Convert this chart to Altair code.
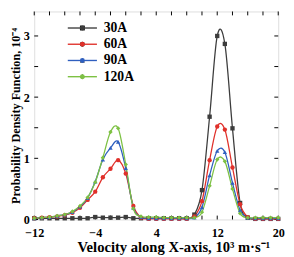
import altair as alt
import pandas as pd

velocity = list(range(-12, 21))
series_names = ["30A", "60A", "90A", "120A"]
colors = ["#3c3c3c", "#e0302a", "#2f5fbf", "#7dc143"]
shapes = ["square", "circle", "triangle-up", "diamond"]

pdf_30A = [0.02, 0.02, 0.02, 0.02, 0.02, 0.02, 0.02, 0.02, 0.04, 0.03, 0.03, 0.03,
           0.04, 0.02, 0.02, 0.02, 0.02, 0.02, 0.02, 0.02, 0.02, 0.08, 0.48, 1.68,
           3.00, 2.87, 1.49, 0.27, 0.03, 0.01, 0.01, 0.01, 0.01]
pdf_60A = [0.02, 0.03, 0.04, 0.05, 0.07, 0.11, 0.19, 0.32, 0.455, 0.69, 0.83, 0.97,
           0.75, 0.22, 0.03, 0.01, 0.01, 0.01, 0.01, 0.01, 0.01, 0.05, 0.30, 0.97,
           1.52, 1.47, 0.85, 0.25, 0.04, 0.01, 0.01, 0.01, 0.01]
pdf_90A = [0.02, 0.03, 0.04, 0.06, 0.08, 0.12, 0.21, 0.35, 0.62, 0.98, 1.17, 1.27,
           0.84, 0.19, 0.04, 0.02, 0.02, 0.02, 0.02, 0.02, 0.02, 0.03, 0.20, 0.72,
           1.12, 1.10, 0.60, 0.15, 0.03, 0.02, 0.02, 0.02, 0.02]
pdf_120A = [0.02, 0.03, 0.04, 0.06, 0.08, 0.13, 0.22, 0.36, 0.61, 1.01, 1.43, 1.49,
            0.90, 0.18, 0.05, 0.04, 0.04, 0.03, 0.03, 0.03, 0.03, 0.03, 0.12, 0.55,
            0.98, 0.95, 0.50, 0.10, 0.03, 0.03, 0.03, 0.03, 0.03]

x_ticks = list(range(-12, 21, 2))
x_labels = list(range(-12, 21, 4))
y_ticks = [0, 0.5, 1, 1.5, 2, 2.5, 3]
y_labels = [0, 1, 2, 3]

rows = []
for name, vals in zip(series_names, [pdf_30A, pdf_60A, pdf_90A, pdf_120A]):
    for v, p in zip(velocity, vals):
        rows.append({"series": name, "v": v, "p": p})
df = pd.DataFrame(rows)

W, H = 251, 214
FONT = "Liberation Serif"

xscale = alt.Scale(domain=[-12, 20], nice=False, zero=False)
yscale = alt.Scale(domain=[0, 3.4], nice=False)

def legend_props(**kw):
    base = dict(orient="none", legendX=42.5, legendY=10, title=None, padding=0,
                symbolSize=25, rowPadding=2.7, labelOffset=15,
                labelFont=FONT, labelFontWeight="bold", labelFontSize=14,
                labelColor="black")
    base.update(kw)
    return alt.Legend(**base)

xenc = alt.X("v:Q", scale=xscale, axis=alt.Axis(
    values=x_labels, format="d", ticks=False, domain=False, grid=False,
    labelPadding=8, labelOverlap=False, labelFlush=False,
    labelFont=FONT, labelFontWeight="bold", labelFontSize=12.5, labelColor="black",
    title="Velocity along X-axis, 10³ m·s⁻¹", titleFont=FONT, titleFontWeight="bold",
    titleFontSize=15, titleColor="black", titleX=143, titleY=33,
    titleBaseline="alphabetic"))
yenc = alt.Y("p:Q", scale=yscale, axis=alt.Axis(
    values=y_labels, format="d", ticks=False, domain=False, grid=False,
    labelPadding=5, labelOverlap=False, labelFlush=False,
    labelFont=FONT, labelFontWeight="bold", labelFontSize=12.5, labelColor="black",
    title="Probability Density Function, 10⁻⁴", titleFont=FONT, titleFontWeight="bold",
    titleFontSize=12.5, titleColor="black", titlePadding=1))

base = alt.Chart(df)
lines = base.mark_line(interpolate="cardinal", strokeWidth=1.3).encode(
    x=xenc, y=yenc,
    color=alt.Color("series:N", scale=alt.Scale(domain=series_names, range=colors),
                    legend=legend_props(symbolType="M-6,0H6", symbolStrokeWidth=1.4)),
    detail="series:N",
)
points = base.mark_point(filled=True, size=20, opacity=1).encode(
    x=alt.X("v:Q", scale=xscale), y=alt.Y("p:Q", scale=yscale),
    color=alt.Color("series:N", scale=alt.Scale(domain=series_names, range=colors),
                    legend=legend_props(labelOpacity=0)),
    shape=alt.Shape("series:N", scale=alt.Scale(domain=series_names, range=shapes),
                    legend=legend_props(labelOpacity=0)),
)

xt = pd.DataFrame({"t": x_ticks})
yt = pd.DataFrame({"t": y_ticks})
tick_bottom = alt.Chart(xt).mark_rule(color="black", strokeWidth=1).encode(
    x=alt.X("t:Q", scale=xscale), y=alt.value(H), y2=alt.value(H - 4))
tick_top = alt.Chart(xt).mark_rule(color="black", strokeWidth=1).encode(
    x=alt.X("t:Q", scale=xscale), y=alt.value(0), y2=alt.value(4))
tick_left = alt.Chart(yt).mark_rule(color="black", strokeWidth=1).encode(
    y=alt.Y("t:Q", scale=yscale), x=alt.value(0), x2=alt.value(4))
tick_right = alt.Chart(yt).mark_rule(color="black", strokeWidth=1).encode(
    y=alt.Y("t:Q", scale=yscale), x=alt.value(W), x2=alt.value(W - 4))

chart = alt.layer(
    tick_bottom, tick_top, tick_left, tick_right, lines, points
).resolve_scale(color="independent").resolve_legend(color="independent").properties(
    width=W, height=H,
    autosize=alt.AutoSizeParams(type="none"),
    padding={"left": 27, "top": 0, "right": 8, "bottom": 35},
).configure_view(stroke="black", strokeWidth=1.2).configure(background="white")

chart.save("out.html", embed_options={"renderer": "svg", "actions": False})
